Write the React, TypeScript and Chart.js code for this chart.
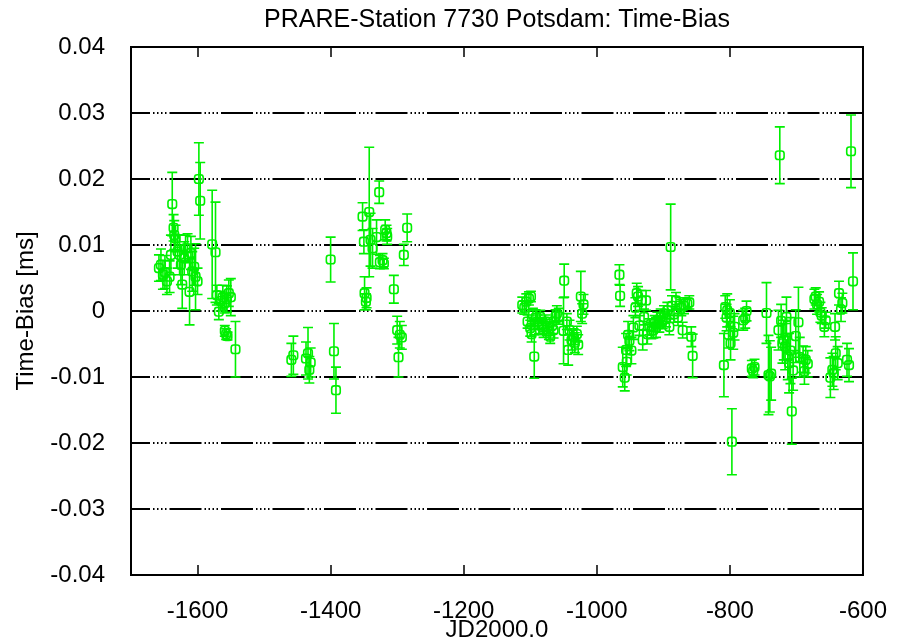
import React, { useEffect, useRef } from 'react';
import { Chart, registerables } from 'chart.js';

Chart.register(...registerables);

const chartTitle = 'PRARE-Station 7730 Potsdam: Time-Bias';
const xTitle = 'JD2000.0';
const yTitle = 'Time-Bias [ms]';

const xTicks = [-1600, -1400, -1200, -1000, -800, -600];
const yTicks = [-0.04, -0.03, -0.02, -0.01, 0, 0.01, 0.02, 0.03, 0.04];
const yTickLabels = ['-0.04', '-0.03', '-0.02', '-0.01', '0', '0.01', '0.02', '0.03', '0.04'];

// JD2000.0 epoch of each pass
const jd = [
  -1658, -1655, -1652, -1649, -1646, -1642, -1640, -1638, -1636, -1635, -1633, -1630, -1627, -1625, -1623,
  -1620, -1618, -1615, -1612, -1610, -1608, -1605, -1603, -1600, -1598, -1596, -1578, -1573, -1571, -1568,
  -1565, -1562, -1559, -1556, -1553, -1550, -1559, -1557, -1555, -1543,
  -1459, -1456, -1437, -1434, -1432, -1430, -1400, -1395, -1392,
  -1352, -1350, -1349, -1347, -1346, -1342, -1340, -1337, -1331, -1327, -1326, -1322, -1320, -1318, -1316,
  -1315, -1305, -1300, -1298, -1296, -1293, -1290, -1285,
  -1112, -1109, -1106, -1104, -1102, -1100, -1099, -1098, -1096, -1094, -1092, -1089, -1087, -1085, -1082,
  -1080, -1077, -1075, -1072, -1070, -1067, -1065, -1062, -1060, -1057, -1050, -1049, -1045, -1043, -1041,
  -1038, -1035, -1033, -1030, -1028, -1024, -1022, -1020,
  -966, -965, -961, -958, -956, -955, -953, -951, -948, -945, -942, -940, -938, -936, -933, -931, -929,
  -926, -924, -921, -918, -915, -913, -911, -909, -906, -904, -901, -899, -896, -894, -891, -889, -887,
  -884, -881, -878, -876, -873, -871, -869, -864, -861, -858, -856,
  -809, -807, -805, -804, -802, -800, -799, -797, -795, -793, -780, -777, -775, -767, -765, -763, -745,
  -742, -740, -738, -727, -725, -723, -721, -719, -717, -715, -713, -711, -709, -707, -705, -701, -697,
  -695, -690, -688, -686, -683, -673, -671, -669, -666, -664, -662, -658, -656, -649, -646, -644, -642,
  -641, -638, -636, -633, -631, -624, -621, -618, -615,
];

// Time bias [ms]
const bias = [
  0.0065, 0.0070, 0.0055, 0.0059, 0.0045, 0.0052, 0.0085, 0.0162, 0.0126, 0.0115, 0.0110, 0.0090, 0.0085, 0.0070, 0.0040,
  0.0080, 0.0095, 0.0095, 0.0029, 0.0088, 0.0060, 0.0067, 0.0052, 0.0045, 0.0200, 0.0167, 0.0101, 0.0089, 0.0024, -0.0001,
  0.0015, 0.0021, 0.0012, 0.0018, 0.0027, 0.0021, -0.0030, -0.0035, -0.0038, -0.0058,
  -0.0074, -0.0067, -0.0072, -0.0064, -0.0089, -0.0078, 0.0078, -0.0061, -0.0120,
  0.0143, 0.0105, 0.0027, 0.0014, 0.0020, 0.0150, 0.0108, 0.0095, 0.0112, 0.0180, 0.0074, 0.0077, 0.0072, 0.0123, 0.0118,
  0.0113, 0.0033, -0.0029, -0.0070, -0.0036, -0.0040, 0.0085, 0.0126,
  0.0009, 0.0005, 0.0014, -0.0016, 0.0019, -0.0026, 0.0022, -0.0035, -0.0006, -0.0069, -0.0010, -0.0016, -0.0022, -0.0009, -0.0024,
  -0.0028, -0.0016, -0.0025, -0.0031, -0.0039, -0.0022, -0.0029, -0.0008, -0.0004, -0.0008, -0.0030, 0.0046, -0.0016, -0.0059, -0.0029,
  -0.0044, -0.0039, -0.0048, -0.0035, -0.0051, 0.0022, -0.0004, 0.0010,
  0.0055, 0.0023, -0.0085, -0.0101, -0.0059, -0.0077, -0.0036, -0.0045, -0.0060, -0.0025, 0.0005, 0.0027, 0.0022, -0.0022, 0.0016, -0.0044, -0.0009,
  0.0016, -0.0035, -0.0024, -0.0030, -0.0029, -0.0019, -0.0025, -0.0014, -0.0020, -0.0009, -0.0015, -0.0004, -0.0012, 0.0001, -0.0024, 0.0097, 0.0008,
  -0.0005, 0.0016, -0.0010, 0.0008, 0.0005, -0.0029, 0.0008, 0.0011, 0.0013, -0.0039, -0.0068,
  -0.0082, 0.0006, -0.0010, 0.0001, -0.0036, -0.0003, -0.0049, -0.0198, -0.0033, -0.0024, -0.0014, -0.0011, 0.0000, -0.0087, -0.0091, -0.0085, -0.0003,
  -0.0097, -0.0099, -0.0095, -0.0029, 0.0236, -0.0015, -0.0049, -0.0044, -0.0054, -0.0009, -0.0069, -0.0079, -0.0060, -0.0152, -0.0090, -0.0038, -0.0017,
  -0.0070, -0.0073, -0.0091, -0.0074, -0.0080, 0.0018, 0.0022, 0.0010, 0.0014, -0.0002, -0.0007, -0.0024, -0.0014, -0.0101, -0.0089, -0.0094, -0.0024,
  -0.0064, -0.0079, 0.0027, 0.0002, 0.0012, -0.0074, -0.0082, 0.0242, 0.0045,
];

// 1-sigma error [ms]
const sigma = [
  0.0020, 0.0024, 0.0022, 0.0025, 0.0020, 0.0024, 0.0030, 0.0048, 0.0020, 0.0022, 0.0020, 0.0025, 0.0030, 0.0030, 0.0036,
  0.0025, 0.0020, 0.0022, 0.0050, 0.0025, 0.0030, 0.0028, 0.0050, 0.0020, 0.0055, 0.0058, 0.0082, 0.0076, 0.0015, 0.0012,
  0.0015, 0.0018, 0.0015, 0.0020, 0.0020, 0.0028, 0.0008, 0.0008, 0.0006, 0.0042,
  0.0025, 0.0029, 0.0025, 0.0039, 0.0020, 0.0022, 0.0034, 0.0042, 0.0035,
  0.0021, 0.0018, 0.0025, 0.0012, 0.0015, 0.0098, 0.0040, 0.0030, 0.0026, 0.0017, 0.0010, 0.0010, 0.0008, 0.0015, 0.0012,
  0.0012, 0.0021, 0.0021, 0.0030, 0.0020, 0.0018, 0.0016, 0.0021,
  0.0012, 0.0010, 0.0012, 0.0010, 0.0010, 0.0012, 0.0008, 0.0012, 0.0010, 0.0033, 0.0012, 0.0010, 0.0012, 0.0010, 0.0012,
  0.0012, 0.0010, 0.0012, 0.0012, 0.0010, 0.0012, 0.0012, 0.0010, 0.0012, 0.0012, 0.0050, 0.0025, 0.0012, 0.0023, 0.0015,
  0.0015, 0.0012, 0.0015, 0.0012, 0.0015, 0.0038, 0.0015, 0.0015,
  0.0015, 0.0016, 0.0030, 0.0020, 0.0025, 0.0020, 0.0020, 0.0015, 0.0020, 0.0018, 0.0015, 0.0015, 0.0015, 0.0015, 0.0015, 0.0015, 0.0012,
  0.0015, 0.0015, 0.0012, 0.0012, 0.0012, 0.0012, 0.0015, 0.0012, 0.0012, 0.0012, 0.0012, 0.0012, 0.0012, 0.0012, 0.0012, 0.0065, 0.0015,
  0.0012, 0.0012, 0.0012, 0.0012, 0.0012, 0.0012, 0.0012, 0.0008, 0.0010, 0.0015, 0.0033,
  0.0048, 0.0017, 0.0020, 0.0025, 0.0020, 0.0020, 0.0025, 0.0050, 0.0025, 0.0020, 0.0015, 0.0015, 0.0015, 0.0012, 0.0010, 0.0012, 0.0046,
  0.0060, 0.0054, 0.0040, 0.0030, 0.0043, 0.0025, 0.0030, 0.0030, 0.0035, 0.0030, 0.0035, 0.0045, 0.0050, 0.0050, 0.0030, 0.0040, 0.0053,
  0.0030, 0.0020, 0.0020, 0.0020, 0.0020, 0.0015, 0.0013, 0.0015, 0.0015, 0.0015, 0.0012, 0.0015, 0.0012, 0.0030, 0.0025, 0.0025, 0.0020,
  0.0025, 0.0025, 0.0018, 0.0018, 0.0015, 0.0025, 0.0025, 0.0055, 0.0043,
];

const GREEN = '#00f000';
const FONT = '"Liberation Sans", Arial, sans-serif';
const FS = 24;

const framePlugin = {
  id: 'gnuFrame',
  beforeDatasetsDraw(chart: any) {
    const { ctx, chartArea: a, scales } = chart;
    const xs = scales.x;
    const ys = scales.y;
    ctx.save();
    // dash-dot-dot horizontal grid
    ctx.strokeStyle = '#000';
    ctx.lineWidth = 2;
    ctx.setLineDash([32, 3, 1.5, 2.5, 1.5, 2.5, 1.5, 2.5, 1.5, 3]);
    ctx.lineDashOffset = 13;
    yTicks.forEach((v) => {
      const py = Math.round(ys.getPixelForValue(v));
      ctx.beginPath();
      ctx.moveTo(a.left, py);
      ctx.lineTo(a.right, py);
      ctx.stroke();
    });
    ctx.setLineDash([]);
    // x tick marks, inward on bottom and top
    ctx.lineWidth = 1.5;
    xTicks.forEach((v) => {
      const px = Math.round(xs.getPixelForValue(v));
      ctx.beginPath();
      ctx.moveTo(px, a.bottom);
      ctx.lineTo(px, a.bottom - 10);
      ctx.moveTo(px, a.top);
      ctx.lineTo(px, a.top + 10);
      ctx.stroke();
    });
    // frame
    ctx.lineWidth = 2;
    ctx.strokeRect(a.left, a.top, a.right - a.left, a.bottom - a.top);
    ctx.restore();
  },
};

const errorBarPlugin = {
  id: 'errorBars',
  beforeDatasetsDraw(chart: any) {
    const { ctx, chartArea: a, scales } = chart;
    const xs = scales.x;
    const ys = scales.y;
    ctx.save();
    ctx.beginPath();
    ctx.rect(a.left, a.top, a.right - a.left, a.bottom - a.top);
    ctx.clip();
    ctx.strokeStyle = GREEN;
    ctx.lineWidth = 1.6;
    jd.forEach((v, i) => {
      const px = xs.getPixelForValue(v);
      const top = ys.getPixelForValue(bias[i] + sigma[i]);
      const bot = ys.getPixelForValue(bias[i] - sigma[i]);
      ctx.beginPath();
      ctx.moveTo(px, top);
      ctx.lineTo(px, bot);
      ctx.moveTo(px - 5, top);
      ctx.lineTo(px + 5, top);
      ctx.moveTo(px - 5, bot);
      ctx.lineTo(px + 5, bot);
      ctx.stroke();
    });
    ctx.restore();
  },
};

export default function App() {
  const ref = useRef<HTMLCanvasElement | null>(null);

  useEffect(() => {
    document.body.style.margin = '0';
    const canvas = ref.current;
    if (!canvas) return;
    Chart.defaults.font.family = FONT;
    Chart.defaults.color = '#000';
    const chart = new Chart(canvas, {
      type: 'scatter',
      data: {
        datasets: [
          {
            data: jd.map((x, i) => ({ x, y: bias[i] })),
            showLine: false,
            pointStyle: 'rectRounded',
            pointRadius: 5,
            pointBorderWidth: 1.6,
            borderColor: GREEN,
            backgroundColor: 'rgba(0,0,0,0)',
          },
        ],
      },
      plugins: [framePlugin, errorBarPlugin],
      options: {
        animation: false,
        responsive: false,
        devicePixelRatio: 1,
        layout: { padding: { left: 0, right: 30, top: 0, bottom: 0 } },
        plugins: {
          legend: { display: false },
          tooltip: { enabled: false },
          title: {
            display: true,
            fullSize: false,
            text: chartTitle,
            color: '#000',
            font: { family: FONT, size: 25, weight: 'normal', lineHeight: 1.2 },
            padding: { top: 5, bottom: 12 },
          },
        },
        scales: {
          x: {
            type: 'linear',
            min: -1700,
            max: -600,
            grid: { display: false },
            border: { display: false },
            afterBuildTicks: (s: any) => {
              s.ticks = xTicks.map((value) => ({ value }));
            },
            afterFit: (s: any) => {
              s.height = 68;
            },
            ticks: {
              autoSkip: false,
              maxRotation: 0,
              padding: 14,
              color: '#000',
              font: { family: FONT, size: FS },
              callback: (v: any) => String(v),
            },
            title: {
              display: true,
              text: xTitle,
              color: '#000',
              font: { family: FONT, size: FS, lineHeight: 1 },
              padding: { top: 0, bottom: 1 },
            },
          },
          y: {
            type: 'linear',
            min: -0.04,
            max: 0.04,
            grid: { display: false },
            border: { display: false },
            afterBuildTicks: (s: any) => {
              s.ticks = yTicks.map((value) => ({ value }));
            },
            afterFit: (s: any) => {
              s.width = 131;
            },
            ticks: {
              autoSkip: false,
              padding: 18,
              color: '#000',
              font: { family: FONT, size: FS },
              callback: (_v: any, i: number) => yTickLabels[i],
            },
            title: {
              display: true,
              text: yTitle,
              color: '#000',
              font: { family: FONT, size: FS, lineHeight: 1.2 },
              padding: { top: 12, bottom: 0 },
            },
          },
        },
      },
    });
    return () => chart.destroy();
  }, []);

  return (
    <div style={{ position: 'absolute', left: 0, top: 0, width: 901, height: 643, background: '#fff' }}>
      <canvas ref={ref} width={901} height={643} style={{ display: 'block' }} />
    </div>
  );
}
